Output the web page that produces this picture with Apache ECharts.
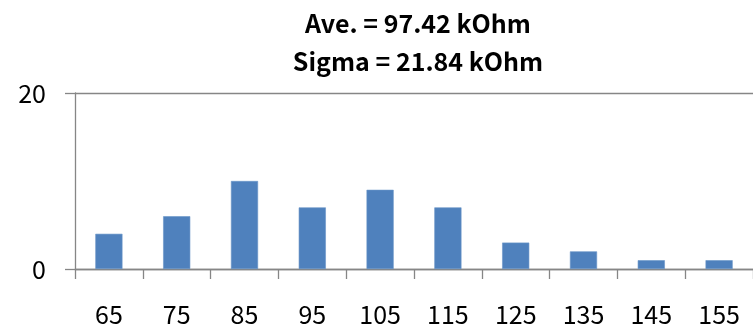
<!DOCTYPE html>
<html>
<head>
<meta charset="utf-8">
<script src="https://cdn.jsdelivr.net/npm/echarts@6/dist/echarts.min.js"></script>
<style>
html,body{margin:0;padding:0;background:#fff;}
#chart{width:753px;height:328px;}
</style>
</head>
<body>
<div id="chart"></div>
<script>
const categories = ['65','75','85','95','105','115','125','135','145','155'];
const counts = [4, 6, 10, 7, 9, 7, 3, 2, 1, 1];
const titleLines = ['Ave. = 97.42 kOhm', 'Sigma = 21.84 kOhm'];
const yMin = 0, yMax = 20, yInterval = 20;

const FONT = '"Noto Sans CJK KR", "Open Sans", sans-serif';
const AXIS_COLOR = '#868686';

const chart = echarts.init(document.getElementById('chart'), null, {renderer: 'canvas'});
chart.setOption({
  animation: false,
  backgroundColor: '#ffffff',
  title: {
    text: titleLines.join('\n'),
    left: 413,
    textAlign: 'center',
    top: -1,
    textStyle: {
      fontFamily: FONT,
      fontWeight: 'bold',
      fontSize: 25,
      lineHeight: 38,
      color: '#000'
    }
  },
  grid: {left: 75, right: 0, top: 93, bottom: 59, containLabel: false},
  xAxis: {
    type: 'category',
    data: categories,
    boundaryGap: true,
    axisLine: {show: true, lineStyle: {color: AXIS_COLOR, width: 1.3}},
    axisTick: {show: true, alignWithLabel: false, length: 10, inside: false, lineStyle: {color: AXIS_COLOR, width: 1.3}},
    axisLabel: {fontFamily: FONT, fontSize: 25, color: '#000', margin: 33},
    splitLine: {show: false}
  },
  yAxis: {
    type: 'value',
    min: yMin,
    max: yMax,
    interval: yInterval,
    axisLine: {show: true, lineStyle: {color: AXIS_COLOR, width: 1.3}},
    axisTick: {show: true, length: 10, lineStyle: {color: AXIS_COLOR, width: 1.3}},
    axisLabel: {fontFamily: FONT, fontSize: 25, color: '#000', margin: 29},
    splitLine: {show: true, lineStyle: {color: AXIS_COLOR, width: 1.3}}
  },
  series: [{
    type: 'bar',
    data: counts,
    barWidth: '40%',
    itemStyle: {color: '#4F81BD', borderColor: '#6a95c8', borderWidth: 0.6}
  }]
});
</script>
</body>
</html>
